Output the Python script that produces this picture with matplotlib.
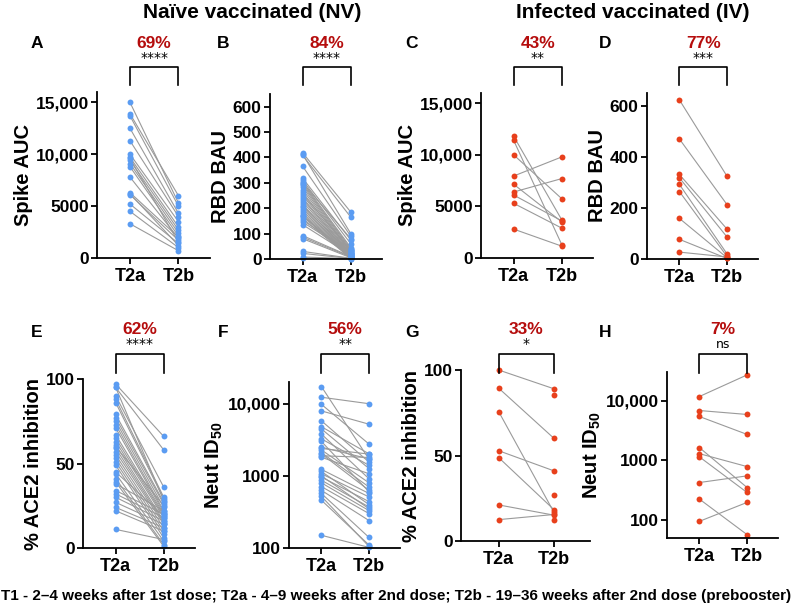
import numpy as np
import matplotlib
matplotlib.use('Agg')
import matplotlib.pyplot as plt
from matplotlib.transforms import blended_transform_factory
from matplotlib.ticker import FixedLocator

plt.rcParams['font.family'] = ['Liberation Sans', 'DejaVu Sans']
plt.rcParams['font.weight'] = 'bold'
plt.rcParams['mathtext.fontset'] = 'custom'
plt.rcParams['mathtext.rm'] = 'Liberation Sans:bold'
plt.rcParams['mathtext.bf'] = 'Liberation Sans:bold'
plt.rcParams['mathtext.default'] = 'bf'

nan = np.nan

## data (T2a -> T2b pairs)
a_t2a = [15000, 13900, 13700, 12500, 11300, 10000, 9700, 9400, 9100, 8800, 7800, 6300, 6100, 5200, 4500, 3300, 9600, 6200]
a_t2b = [5300, 6000, 5000, 4300, 4000, 3500, 3000, 2700, 2400, 2100, 1900, 2000, 1700, 1400, 1000, 700, 1500, 1200]

b_t2a = [418, 412, 408, 365, 318, 310, 302, 296, 290, 282, 272, 262, 250, 240, 234, 225, 215, 205, 198, 190,
         182, 175, 168, 160, 152, 145, 135, 92, 86, 80, 30, 22, 8, 4, 255, 300, 210, 170]
b_t2b = [185, 100, 165, 90, 75, 60, 45, 40, 35, 30, 28, 25, 22, 20, 18, 15, 12, 10, 8, 6,
         5, 4, 3, 2, 30, 25, 15, 10, 8, 5, 3, 2, 1, 0, 35, 80, 20, 12]

c_t2a = [11800, 11400, 10000, 7950, 7150, 6400, 6100, 5300, 2800]
c_t2b = [3700, 1300, 5750, 9800, 3500, 7700, 3600, 2900, 1150]

d_t2a = [623, 470, 331, 318, 292, 264, 159, 77, 27]
d_t2b = [324, 213, 117, 86, 20, 10, 5, 2, 8]

e_t2a = [97, 95, 90, 88, 86, 79, 77, 75, 73, 71, 67, 65, 63, 61, 59, 57, 55, 53, 51, 49,
         44, 41, 39, 38, 34, 32, 30, 27, 24, 22, 11, 95, 60, 45]
e_t2b = [66, 58, 36, 30, 29, 27, 26, 24, 22, 21, 20, 19, 18, 16, 15, 14, 12, 10, 8, 6,
         4, 2, 1, 22, 20, 18, 16, 14, 12, 10, 5, 28, 25, 19]

f_t2a = [17300, 12300, 9800, 7950, 5800, 4800, 4480, 3800, 3260, 2500, 2290, 2020, 1810, 1230, 1070,
         960, 870, 710, 630, 570, 460, 150, 2400, 1900, 2100, 1150, 800, 520, 3000, 1000]
f_t2b = [1700, 10000, 2760, 5200, 1550, 2020, 1260, 910, 1400, 1720, 800, 630, 1070, 570, 510,
         440, 370, 300, 240, 140, 110, 102, 2000, 1800, 700, 400, 330, 105, 600, 350]

g_t2a = [100, 89.4, 75.7, 52.8, 48.8, 21.1, 12.5, nan, nan, nan]
g_t2b = [89, 60, 16.7, 41, 18.3, 15.1, 15.5, 85.6, 26.7, 12.2]

h_t2a = [11660, 6800, 5400, 1630, 1290, 1140, 424, 224, 95]
h_t2b = [26800, 5840, 2710, 350, 784, 289, 548, 57, 197]

timepoints = ['T2a', 'T2b']
panels = ['A', 'B', 'C', 'D', 'E', 'F', 'G', 'H']
ylabels = ['Spike AUC', 'RBD BAU', 'Spike AUC', 'RBD BAU',
           '% ACE2 inhibition', 'Neut ID$_{50}$', '% ACE2 inhibition', 'Neut ID$_{50}$']
pct = ['69%', '84%', '43%', '77%', '62%', '56%', '33%', '7%']
sig = ['****', '****', '**', '***', '****', '**', '*', 'ns']
pairs = [(a_t2a, a_t2b), (b_t2a, b_t2b), (c_t2a, c_t2b), (d_t2a, d_t2b),
         (e_t2a, e_t2b), (f_t2a, f_t2b), (g_t2a, g_t2b), (h_t2a, h_t2b)]

blue = '#5b9cf2'
red = '#e8401c'

W, H = 793, 613
fig = plt.figure(figsize=(W/100, H/100), dpi=100)

def rect(l, r, t, b):
    return [l/W, 1-b/H, (r-l)/W, (b-t)/H]

boxes = [rect(97, 210, 92, 258), rect(270, 382, 94, 259), rect(481, 593, 93, 258), rect(647, 758, 93, 259),
         rect(83, 195, 379, 548), rect(289, 400, 382, 548), rect(461, 590, 370, 541), rect(667, 778, 372, 538)]

ylims = [(0, 16000), (0, 650), (0, 16000), (0, 650), (0, 100), (100, 20000), (0, 100), (50, 30000)]
yticks = [[0, 5000, 10000, 15000], [0, 100, 200, 300, 400, 500, 600], [0, 5000, 10000, 15000], [0, 200, 400, 600],
          [0, 50, 100], [100, 1000, 10000], [0, 50, 100], [100, 1000, 10000]]
letter_pos = [(37, 44), (223, 44), (412, 44), (605, 44), (37, 332), (223, 332), (412, 332), (605, 332)]

def fmt(v):
    return '{:,}'.format(v) if v >= 10000 else str(v)

for i in range(8):
    ax = fig.add_axes(boxes[i])
    t2a, t2b = pairs[i]
    col = blue if i in (0, 1, 4, 5) else red
    for ya, yb in zip(t2a, t2b):
        ax.plot([0, 1], [ya, yb], color='#9a9a9a', lw=0.8, zorder=1)
    ax.scatter(np.zeros(len(t2a)), t2a, s=18, color=col, zorder=2, clip_on=False, lw=0)
    ax.scatter(np.ones(len(t2b)), t2b, s=18, color=col, zorder=2, clip_on=False, lw=0)
    if i in (5, 7):
        ax.set_yscale('log')
        ax.yaxis.set_minor_locator(FixedLocator([]))
    ax.set_ylim(*ylims[i])
    ax.set_yticks(yticks[i])
    ax.set_yticklabels([fmt(v) for v in yticks[i]])
    ax.set_xlim(-0.68, 1.65)
    ax.set_xticks([0, 1])
    ax.set_xticklabels(timepoints)
    ax.set_ylabel(ylabels[i], fontsize=14.5, fontweight='bold', labelpad=2)
    ax.spines['top'].set_visible(False)
    ax.spines['right'].set_visible(False)
    ax.spines['left'].set_linewidth(1.3)
    ax.spines['bottom'].set_linewidth(1.3)
    ax.tick_params(axis='y', labelsize=12.5, width=1.3, length=4, pad=2)
    ax.tick_params(axis='x', labelsize=13, width=1.3, length=4, pad=3)
    for lab in ax.get_xticklabels() + ax.get_yticklabels():
        lab.set_fontweight('bold')
    # bracket, significance and percent drop
    tr = blended_transform_factory(ax.transData, fig.transFigure)
    top = 1 - (67 if i < 4 else 354)/H
    leg = 1 - (85 if i < 4 else 373)/H
    ax.plot([0, 0, 1, 1], [leg, top, top, leg], color='black', lw=1.2, transform=tr, clip_on=False)
    ax.text(0.5, 1 - (58 if i < 4 else 344)/H, sig[i], transform=tr, ha='center', va='center',
            fontsize=9 if sig[i] == 'ns' else 10, fontweight='normal', family='DejaVu Sans')
    ax.text(0.5, 1 - (43 if i < 4 else 329)/H, pct[i], transform=tr, ha='center', va='center',
            fontsize=12.5, fontweight='bold', color='#b50d0d')
    fig.text(letter_pos[i][0]/W, 1 - letter_pos[i][1]/H, panels[i], ha='center', va='center',
             fontsize=12.5, fontweight='bold')

fig.text(252/W, 1 - 12/H, 'Naïve vaccinated (NV)', ha='center', va='center', fontsize=15, fontweight='bold')
fig.text(633/W, 1 - 12/H, 'Infected vaccinated (IV)', ha='center', va='center', fontsize=15, fontweight='bold')
fig.text(396/W, 1 - 596/H,
         'T1 - 2\u20134 weeks after 1st dose; T2a - 4\u20139 weeks after 2nd dose; T2b - 19\u201336 weeks after 2nd dose (prebooster)',
         ha='center', va='center', fontsize=11, fontweight='bold',
         family=['Liberation Sans Narrow', 'Liberation Sans', 'DejaVu Sans'])

fig.savefig('out.png', dpi=100)
